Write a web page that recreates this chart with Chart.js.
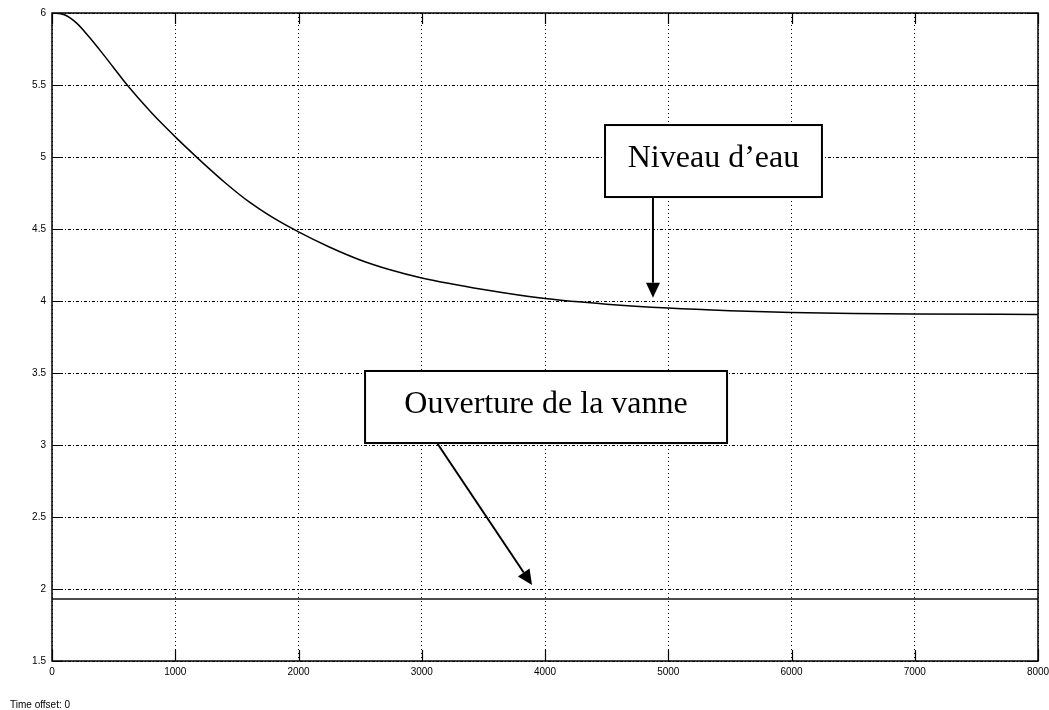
<!DOCTYPE html>
<html>
<head>
<meta charset="utf-8">
<script src="https://cdn.jsdelivr.net/npm/chart.js@4.4.1/dist/chart.umd.min.js"></script>
<style>
    body { margin: 0; background: #fff; }
    #wrap { width: 1049px; height: 710px; }
</style>
</head>
<body>
<div id="wrap">
    <canvas id="scope" width="1049" height="710"></canvas>
</div>
<script>
// niveau d'eau (courbe du haut)
const timeValues = [0, 100, 200, 300, 400, 500, 600, 700, 800, 900, 1000, 1100, 1200, 1400, 1600, 1800, 2000,
    2250, 2500, 2750, 3000, 3500, 4000, 4500, 5000, 5500, 6000, 6500, 7000, 8000]
const niveauValues = [6.0, 5.988, 5.93, 5.835, 5.73, 5.62, 5.51, 5.41, 5.315, 5.225, 5.14, 5.058, 4.978, 4.825, 4.688, 4.575, 4.48,
    4.375, 4.285, 4.215, 4.16, 4.08, 4.017, 3.978, 3.951, 3.933, 3.921, 3.914, 3.91, 3.907]

// ouverture de la vanne (constante)
const vanneTimes = [0, 8000]
const vanneValues = [1.93, 1.93]

const xTicks = [0, 1000, 2000, 3000, 4000, 5000, 6000, 7000, 8000]
const yTicks = [1.5, 2, 2.5, 3, 3.5, 4, 4.5, 5, 5.5, 6]

const labelFont = { family: "'Liberation Sans', Arial, sans-serif", size: 10 }

// boxes + arrows, in data coordinates
const annotations = [
    { text: 'Niveau d\u2019eau', box: [4487, 5.222, 6247, 4.722], from: [4876, 4.722], to: [4876, 4.023] },
    { text: 'Ouverture de la vanne', box: [2540, 3.514, 5477, 3.014], from: [3124, 3.014], to: [3895, 2.028] },
]

function drawArrow(ctx, x1, y1, x2, y2) {
    const ang = Math.atan2(y2 - y1, x2 - x1)
    const len = 15, half = 7
    const bx = x2 - len * Math.cos(ang), by = y2 - len * Math.sin(ang)
    ctx.beginPath()
    ctx.moveTo(x1, y1)
    ctx.lineTo(bx, by)
    ctx.stroke()
    ctx.beginPath()
    ctx.moveTo(x2, y2)
    ctx.lineTo(bx + half * Math.sin(ang), by - half * Math.cos(ang))
    ctx.lineTo(bx - half * Math.sin(ang), by + half * Math.cos(ang))
    ctx.closePath()
    ctx.fill()
}

const scopePlugin = {
    id: 'scope',
    afterDraw(chart) {
        const ctx = chart.ctx
        const xs = chart.scales.x, ys = chart.scales.y
        const area = chart.chartArea
        ctx.save()
        ctx.strokeStyle = '#000'
        ctx.fillStyle = '#000'

        // inward ticks on the 4 sides
        ctx.lineWidth = 1.2
        const tl = 11
        xTicks.forEach(v => {
            const px = Math.round(xs.getPixelForValue(v)) + 0.5
            ctx.beginPath()
            ctx.moveTo(px, area.bottom); ctx.lineTo(px, area.bottom - tl)
            ctx.moveTo(px, area.top); ctx.lineTo(px, area.top + tl)
            ctx.stroke()
        })
        yTicks.forEach(v => {
            const py = Math.round(ys.getPixelForValue(v)) + 0.5
            ctx.beginPath()
            ctx.moveTo(area.left, py); ctx.lineTo(area.left + tl, py)
            ctx.moveTo(area.right, py); ctx.lineTo(area.right - tl, py)
            ctx.stroke()
        })

        // axes box
        ctx.lineWidth = 1.5
        ctx.strokeRect(area.left, area.top, area.right - area.left, area.bottom - area.top)

        // annotations
        annotations.forEach(a => {
            const x1 = xs.getPixelForValue(a.box[0]), y1 = ys.getPixelForValue(a.box[1])
            const x2 = xs.getPixelForValue(a.box[2]), y2 = ys.getPixelForValue(a.box[3])
            ctx.fillStyle = '#fff'
            ctx.fillRect(x1, y1, x2 - x1, y2 - y1)
            ctx.lineWidth = 2
            ctx.strokeRect(x1, y1, x2 - x1, y2 - y1)
            ctx.fillStyle = '#000'
            ctx.font = "32px 'Liberation Serif', 'Times New Roman', serif"
            ctx.textAlign = 'center'
            ctx.textBaseline = 'alphabetic'
            ctx.fillText(a.text, (x1 + x2) / 2, y1 + 42)
            ctx.lineWidth = 2
            drawArrow(ctx, xs.getPixelForValue(a.from[0]), ys.getPixelForValue(a.from[1]),
                xs.getPixelForValue(a.to[0]), ys.getPixelForValue(a.to[1]))
        })

        ctx.font = "10px 'Liberation Sans', Arial, sans-serif"
        ctx.textAlign = 'left'
        ctx.textBaseline = 'middle'
        ctx.fillText('Time offset: 0', 10, 705)
        ctx.restore()
    }
}

new Chart(document.getElementById('scope'), {
    type: 'line',
    data: {
        datasets: [
            {
                data: timeValues.map((t, i) => ({ x: t, y: niveauValues[i] })),
                borderColor: '#000',
                borderWidth: 1.5,
                pointRadius: 0,
                cubicInterpolationMode: 'monotone',
            },
            {
                data: vanneTimes.map((t, i) => ({ x: t, y: vanneValues[i] })),
                borderColor: '#111',
                borderWidth: 1.5,
                pointRadius: 0,
            }
        ]
    },
    options: {
        responsive: false,
        animation: false,
        layout: { padding: { top: 13, right: 11, left: 0, bottom: 0 } },
        plugins: {
            legend: { display: false },
            tooltip: { enabled: false }
        },
        scales: {
            x: {
                type: 'linear',
                min: 0,
                max: 8000,
                afterBuildTicks: (scale) => { scale.ticks = xTicks.map(v => ({ value: v })) },
                afterFit: (scale) => {
                    scale.height = 49
                    // no extra room for the 8000 label overflow
                    scale.paddingLeft = 0
                    scale.paddingRight = 0
                },
                ticks: {
                    color: '#000',
                    font: labelFont,
                    padding: 5,
                    maxRotation: 0,
                    callback: (v) => String(v)
                },
                grid: { color: '#000', lineWidth: 1, drawTicks: false },
                border: { display: false, dash: [1, 3] }
            },
            y: {
                type: 'linear',
                min: 1.5,
                max: 6,
                afterBuildTicks: (scale) => { scale.ticks = yTicks.map(v => ({ value: v })) },
                afterFit: (scale) => {
                    scale.width = 52
                    scale.paddingTop = 0
                    scale.paddingBottom = 0
                },
                ticks: {
                    color: '#000',
                    font: labelFont,
                    padding: 6,
                    callback: (v) => String(v)
                },
                grid: { color: '#000', lineWidth: 1, drawTicks: false },
                border: { display: false, dash: [3, 2, 1, 2] }
            }
        }
    },
    plugins: [scopePlugin]
})
</script>
</body>
</html>
